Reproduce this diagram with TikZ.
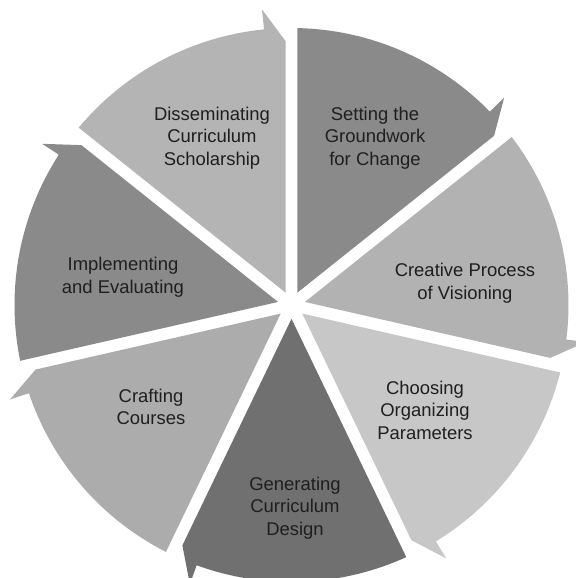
\documentclass[tikz,border=0pt]{standalone}
\usepackage{fontspec}
\setmainfont{Liberation Sans}
\definecolor{segA}{gray}{0.54}
\definecolor{segB}{gray}{0.70}
\definecolor{segC}{gray}{0.78}
\definecolor{segD}{gray}{0.44}
\definecolor{segE}{gray}{0.675}
\definecolor{segF}{gray}{0.54}
\definecolor{segG}{gray}{0.705}
\begin{document}
\begin{tikzpicture}[x=0.02cm, y=0.02cm,
    every node/.style={font=\fontsize{10.5}{12.8}\selectfont, align=center, text=black!88}]
    \useasboundingbox (-291.5,-273) rectangle (283.5,305);
    % seven segments, clockwise from the top, each with a notched head
    \foreach \i/\col in {0/segA, 1/segB, 2/segC, 3/segD, 4/segE, 5/segF, 6/segG} {
        \pgfmathsetmacro\a{90-\i*360/7}
        \pgfmathsetmacro\b{\a-360/7}
        \pgfmathsetmacro\m{\a-180/7}
        \fill[\col] (\a-1.24:277) arc[start angle=\a-1.24, end angle=\b+5.7, radius=277]
            -- (\b+5.7:297) -- (\b+1.3:264) -- (\m:13.8) -- cycle;
    }
    \node (set) at (83.5,167) {Setting the\\Groundwork\\for Change};
    \node (cre) at (173.5,22) {Creative Process\\of Visioning};
    \node (cho) at (133.5,-105) {Choosing\\Organizing\\Parameters};
    \node (gen) at (3.5,-203) {Generating\\Curriculum\\Design};
    \node (cra) at (-140.5,-102) {Crafting\\Courses};
    \node (imp) at (-168.5,28) {Implementing\\and Evaluating};
    \node (dis) at (-79.5,167) {Disseminating\\Curriculum\\Scholarship};
\end{tikzpicture}
\end{document}
